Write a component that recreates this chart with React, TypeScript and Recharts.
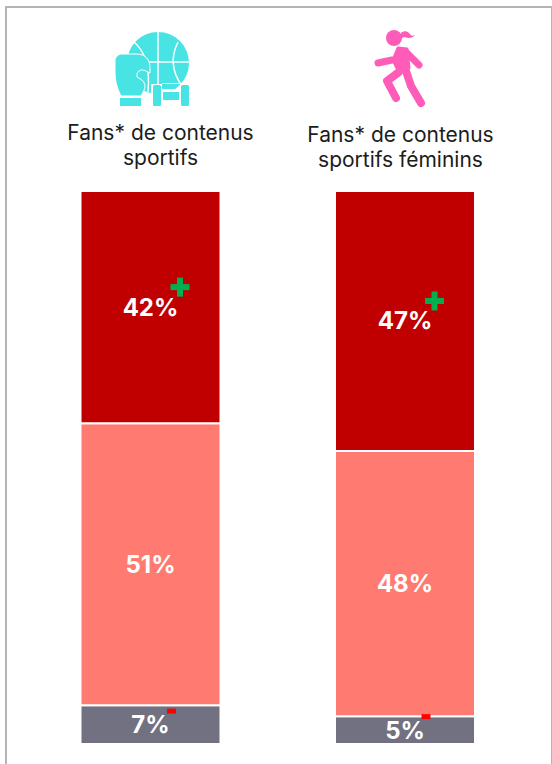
import React from 'react';
import { BarChart, Bar, XAxis, YAxis, LabelList } from 'recharts';

const categories = ['Fans* de contenus\nsportifs', 'Fans* de contenus\nsportifs féminins'];
const topValues = [42, 47];
const middleValues = [51, 48];
const bottomValues = [7, 5];
const rows = categories.map((category, i) => ({
  category,
  top: topValues[i],
  middle: middleValues[i],
  bottom: bottomValues[i],
}));

const FONT = 'Inter, "Noto Sans", sans-serif';

function GearIcon() {
  const c = '#48E3E3';
  return (
    <g>
      <defs>
        <clipPath id="ballClip">
          <path d="M120 20 H195 V83 H162 V89 H180 V84 H195 V84 H151 V97 H120 Z" />
        </clipPath>
      </defs>
      <g clipPath="url(#ballClip)">
        <circle cx={158} cy={63} r={31} fill={c} />
        <path d="M158 30 V96 M125 62 H191" stroke="#fff" strokeWidth={1.5} fill="none" />
        <path d="M134 42 C146 52 150 70 148 92" stroke="#fff" strokeWidth={1.5} fill="none" />
        <path d="M178 42 C170 58 172 72 182 86" stroke="#fff" strokeWidth={1.5} fill="none" />
      </g>
      <path d="M122 54 H136 C146 54 150 60 150 68 V73 L146 71 C140 68 136 72 137 77 L142 80 C146 84 146 88 141 96 H121 C118 90 115 82 115 72 V61 C115 57 118 54 122 54 Z" fill={c} stroke="#fff" strokeWidth={1} />
      <rect x={120} y={98} width={21} height={8} fill={c} />
      <rect x={153} y={85} width={8} height={21} rx={1.5} fill={c} />
      <rect x={163} y={92} width={16} height={8} fill={c} />
      <rect x={181} y={85} width={8} height={21} rx={1.5} fill={c} />
    </g>
  );
}

function RunnerIcon() {
  const c = '#FF5CBA';
  return (
    <g>
      <circle cx={394} cy={38} r={8} fill={c} />
      <path d="M401 33 C404 30 408 31 410 34 C411 36 413 36 415 35 C413 38 408 39 405 37 C403 37 402 38 400 39 Z" fill={c} />
      <path d="M398 48 L407 49 L409 68 L398 70 L393 60 Z" fill={c} stroke={c} strokeWidth={3} strokeLinejoin="round" />
      <path d="M378 63 L392 60" stroke={c} strokeWidth={7} strokeLinecap="round" fill="none" />
      <path d="M406 52 L419 65" stroke={c} strokeWidth={7} strokeLinecap="round" fill="none" />
      <path d="M405 68 L411 86 L421 103" stroke={c} strokeWidth={8} strokeLinecap="round" strokeLinejoin="round" fill="none" />
      <path d="M399 72 L387 81 L396 98" stroke={c} strokeWidth={8} strokeLinecap="round" strokeLinejoin="round" fill="none" />
    </g>
  );
}

function CategoryTick(props: any) {
  const { payload, index } = props;
  const lines = String(payload.value).split('\n');
  const cx = index === 0 ? 160.5 : 400.5;
  const y0 = index === 0 ? 140 : 142;
  return (
    <g>
      {index === 0 ? <GearIcon /> : <RunnerIcon />}
      {lines.map((line, i) => (
        <text key={line} x={cx} y={y0 + i * 25} textAnchor="middle" fontFamily={FONT} fontSize={21} fill="#1c1c1c">
          {line}
        </text>
      ))}
    </g>
  );
}

function SegmentLabel(mark?: 'plus' | 'minus') {
  return function Label(props: any) {
    const { x, y, width, height, value } = props;
    const cx = x + width / 2;
    const cy = y + height / 2;
    return (
      <g>
        <text x={cx} y={cy + 8.5} textAnchor="middle" fontFamily={FONT} fontWeight={700} fontSize={24} fill="#fff">
          {value}%
        </text>
        {mark === 'plus' && (
          <g fill="#00B050">
            <rect x={cx + 20} y={cy - 23} width={19} height={6} />
            <rect x={cx + 26.5} y={cy - 29.5} width={6} height={19} />
          </g>
        )}
        {mark === 'minus' && <rect x={cx + 16.5} y={cy - 16} width={9} height={5} fill="#FF0000" />}
      </g>
    );
  };
}

export default function App() {
  return (
    <div style={{ position: 'absolute', left: 0, top: 0, width: 552, height: 764, background: '#fff', overflow: 'hidden' }}>
      <div style={{ position: 'absolute', left: 5, top: 6, width: 544, height: 770, border: '2px solid #b4b4b4' }} />
      <div style={{ position: 'absolute', left: 0, top: 0 }}>
        <BarChart width={552} height={764} data={rows} margin={{ top: 190, right: 19.5, bottom: 20, left: 23.5 }} barSize={140}>
          <XAxis dataKey="category" orientation="top" height={1} axisLine={false} tickLine={false} tick={CategoryTick} interval={0} />
          <YAxis hide domain={[0, 100]} />
          <Bar dataKey="bottom" stackId="a" fill="#717181" stroke="#fff" strokeWidth={2} isAnimationActive={false}>
            <LabelList dataKey="bottom" content={SegmentLabel('minus')} />
          </Bar>
          <Bar dataKey="middle" stackId="a" fill="#FF7B72" stroke="#fff" strokeWidth={2} isAnimationActive={false}>
            <LabelList dataKey="middle" content={SegmentLabel()} />
          </Bar>
          <Bar dataKey="top" stackId="a" fill="#C00000" stroke="#fff" strokeWidth={2} isAnimationActive={false}>
            <LabelList dataKey="top" content={SegmentLabel('plus')} />
          </Bar>
        </BarChart>
      </div>
    </div>
  );
}
